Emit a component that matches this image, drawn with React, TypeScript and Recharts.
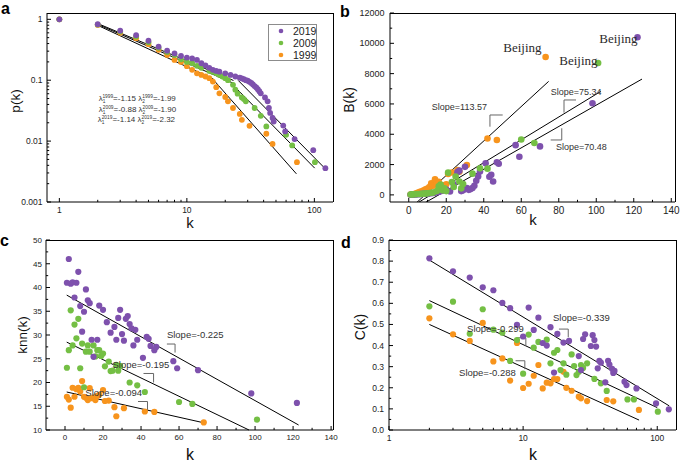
import React from 'react';
import { ScatterChart, Scatter, XAxis, YAxis, ReferenceLine, ReferenceDot, Legend } from 'recharts';

const PURPLE = '#7e51ad';
const GREEN = '#74bf44';
const ORANGE = '#f7941d';
const SANS = '"Liberation Sans", Arial, Helvetica, sans-serif';
const SERIF = '"Liberation Serif", "Times New Roman", Times, serif';

type Pt = { k: number; v: number };
const pts = (rows: number[][]): Pt[] => rows.map(([k, v]) => ({ k, v }));

// ---------- panel a : p(k) ----------
const pk2019 = pts([[1,1],[2,0.83],[3,0.65],[4,0.55],[5,0.445],[6,0.355],[7,0.305],[8,0.275],[9,0.25],[10,0.235],[11,0.228],[12,0.215],[13,0.19],[14,0.175],[15,0.16],[16,0.148],[17,0.142],[18,0.138],[20,0.13],[22,0.122],[24,0.115],[26,0.11],[27,0.107],[28,0.104],[29,0.1],[30,0.098],[31,0.094],[32,0.09],[33,0.085],[34,0.08],[35,0.076],[36,0.071],[37,0.066],[38,0.061],[41,0.052],[43,0.045],[44,0.035],[45,0.029],[47,0.024],[48,0.021],[57,0.018],[59,0.0144],[70,0.0108],[98,0.0071],[122,0.0036]]);
const pk2009 = pts([[1,1],[2,0.82],[3,0.63],[4,0.52],[5,0.42],[6,0.34],[7,0.29],[8,0.26],[9,0.22],[10,0.2],[11,0.19],[12,0.172],[13,0.16],[15,0.142],[16,0.137],[17,0.13],[18,0.122],[19,0.115],[20,0.108],[21,0.1],[23,0.084],[24,0.07],[25,0.06],[27,0.052],[28,0.049],[29,0.045],[34,0.035],[38,0.026],[42,0.0174],[60,0.0127],[67,0.0085],[101,0.0045]]);
const pk1999 = pts([[1,1],[2,0.81],[3,0.6],[4,0.49],[5,0.39],[6,0.315],[7,0.26],[8,0.215],[9,0.2],[10,0.17],[11,0.148],[12,0.13],[13,0.122],[14,0.115],[15,0.108],[16,0.095],[17,0.077],[18,0.061],[20,0.053],[21,0.045],[23,0.035],[26,0.028],[27,0.0224],[31,0.0178],[42,0.0132],[47,0.009],[73,0.0045]]);
const A_X_DOMAIN = [0.8, 140];
const A_Y_DOMAIN = [0.001, 1.27];
const A_X_TICKS = [1,2,3,4,5,6,7,8,9,10,20,30,40,50,60,70,80,90,100];
const A_X_MAJOR = [1,10,100];
const A_Y_TICKS = [0.001,0.002,0.003,0.004,0.005,0.006,0.007,0.008,0.009,0.01,0.02,0.03,0.04,0.05,0.06,0.07,0.08,0.09,0.1,0.2,0.3,0.4,0.5,0.6,0.7,0.8,0.9,1];
const A_Y_MAJOR = [0.001,0.01,0.1,1];
const FIT_A = [
  { k1: 1.98, v1: 0.86, k2: 23.2, v2: 0.099 },
  { k1: 2.02, v1: 0.818, k2: 23.2, v2: 0.089 },
  { k1: 2.05, v1: 0.777, k2: 16.2, v2: 0.104 },
  { k1: 25.3, v1: 0.099, k2: 120.5, v2: 0.0036 },
  { k1: 23.9, v1: 0.077, k2: 100.6, v2: 0.0036 },
  { k1: 16.2, v1: 0.101, k2: 72.3, v2: 0.0029 },
];
const LAMBDA = [
  { year: '1999', l1: '-1.15', l2: '-1.99', k: 2.04, v: 0.0507 },
  { year: '2009', l1: '-0.88', l2: '-1.90', k: 2.04, v: 0.0335 },
  { year: '2019', l1: '-1.14', l2: '-2.32', k: 2.0, v: 0.023 },
];
const LEGEND_ITEMS = [
  { name: '2019', color: PURPLE },
  { name: '2009', color: GREEN },
  { name: '1999', color: ORANGE },
];

// ---------- panel b : B(k) ----------
const bk2019 = pts([[1,10],[2,15],[3,25],[4,30],[5,40],[6,50],[7,60],[8,70],[9,80],[10,60],[11,100],[12,110],[13,120],[14,150],[15,170],[16,200],[17,240],[18,280],[20,350],[22,220],[24,700],[26,1500],[27,1600],[28,250],[29,300],[30,1850],[31,450],[32,330],[33,380],[34,450],[35,600],[36,930],[37,1220],[38,1550],[41,2080],[43,1200],[44,1330],[45,880],[47,2150],[48,2050],[57,3280],[59,2520],[70,3200],[98,6050],[122,10400]]);
const bk2009 = pts([[1,20],[2,30],[3,40],[4,50],[5,55],[6,60],[7,70],[8,80],[9,90],[10,100],[11,120],[12,140],[13,160],[15,250],[16,560],[17,680],[18,300],[19,440],[20,250],[21,1465],[23,850],[24,520],[25,1210],[27,880],[28,430],[29,720],[34,1400],[38,1750],[42,1730],[60,3650],[67,3420],[101,8700]]);
const bk1999 = pts([[1,20],[2,40],[3,60],[4,110],[5,150],[6,200],[7,240],[8,300],[9,360],[10,420],[11,520],[12,765],[13,600],[14,1030],[15,700],[16,870],[17,560],[18,640],[20,700],[21,1380],[23,1480],[26,1640],[27,1530],[31,1970],[42,3720],[47,3620],[73,9100]]);
const B_X_DOMAIN = [-10, 142];
const B_Y_DOMAIN = [-470, 12000];
const B_X_TICKS = [0,10,20,30,40,50,60,70,80,90,100,110,120,130,140];
const B_X_MAJOR = [0,20,40,60,80,100,120,140];
const B_Y_TICKS = [0,1000,2000,3000,4000,5000,6000,7000,8000,9000,10000,11000,12000];
const B_Y_MAJOR = [0,2000,4000,6000,8000,10000,12000];
const FIT_B = [
  { k1: 3.4, v1: -600, k2: 74.6, v2: 7487 },
  { k1: 3.83, v1: -600, k2: 102.4, v2: 6826 },
  { k1: 7.5, v1: -600, k2: 124.4, v2: 7641 },
];
const SLOPE_B = [
  { text: 'Slope=113.57', k: 12.3, v: 5799, bracket: [[50.1, 5271], [43.3, 5271], [43.3, 4499]] },
  { text: 'Slope=75.34', k: 75.7, v: 6808, bracket: [[89.2, 6261], [82.8, 6261], [82.8, 5423]] },
  { text: 'Slope=70.48', k: 78.5, v: 3180, bracket: [[81.6, 4394], [81.6, 3622], [75.7, 3622]] },
];
const BEIJING = [
  { k: 50.4, v: 9407 },
  { k: 80.3, v: 8570 },
  { k: 101.6, v: 10001 },
];

// ---------- panel c : knn(k) ----------
const knn2019 = pts([[2,46],[1,41],[3,40.8],[4,41.1],[6,41],[7,43.3],[5,37.9],[8,36.1],[10,34.9],[11,39.6],[12,37.3],[13,36.7],[9,30.7],[14,29],[15,25.4],[17,29],[18,36.2],[20,35.3],[22,32.7],[24,30.5],[26,31.7],[27,29],[28,33.6],[29,35.3],[30,30.2],[31,28.8],[32,33.4],[33,34],[34,32.3],[35,31.4],[36,27.8],[37,31.1],[38,29],[41,25.2],[43,29.6],[44,29.2],[45,27.7],[47,26.8],[48,27.5],[57,24.5],[59,23],[70,22.6],[98,17.7],[122,15.7]]);
const knn2009 = pts([[1,23.1],[2,26.8],[3,35.2],[4,27.8],[5,32.2],[6,29.3],[7,33.4],[8,23],[9,28.2],[10,19],[11,26.5],[12,27.8],[13,26.5],[15,27.8],[16,25.5],[17,26.8],[18,26.8],[19,25.6],[20,26.1],[21,23.4],[23,24.4],[24,22.4],[25,22.5],[27,23.7],[28,22.5],[29,23.5],[34,20],[38,19.4],[42,18],[60,15.9],[67,15.5],[101,12.2]]);
const knn1999 = pts([[1,17],[2,16.4],[3,14.7],[4,18.9],[5,17],[6,18.6],[7,18.9],[8,18.1],[9,20.3],[10,17],[11,16.8],[12,16.3],[13,18.8],[14,16.7],[15,16.9],[16,16.3],[17,17.2],[18,17.4],[20,18.4],[21,16.1],[23,16.2],[26,14.8],[27,12.9],[31,14.6],[42,13.9],[47,13.8],[73,11.6]]);
const C_X_DOMAIN = [-10, 141];
const C_Y_DOMAIN = [10, 50];
const C_X_TICKS = [0,10,20,30,40,50,60,70,80,90,100,110,120,130,140];
const C_X_MAJOR = [0,20,40,60,80,100,120,140];
const C_Y_TICKS = [10,12.5,15,17.5,20,22.5,25,27.5,30,32.5,35,37.5,40,42.5,45,47.5,50];
const C_Y_MAJOR = [10,15,20,25,30,35,40,45,50];
const FIT_C = [
  { k1: 0.9, v1: 38.4, k2: 122.9, v2: 11.05 },
  { k1: 0.9, v1: 28.5, k2: 96.8, v2: 10 },
  { k1: 0.9, v1: 18, k2: 73.2, v2: 11.5 },
];
const SLOPE_C = [
  { text: 'Slope=-0.225', k: 53.6, v: 30, bracket: [[53.6, 28.1], [57.9, 28.1], [57.9, 26.3]] },
  { text: 'Slope=-0.195', k: 25, v: 23.7, bracket: [[41.3, 21.9], [46.6, 21.9], [46.6, 20]] },
  { text: 'Slope=-0.094', k: 10.7, v: 17.9, bracket: [[38.4, 16], [43.4, 16], [43.4, 14.2]] },
];

// ---------- panel d : C(k) ----------
const ck2019 = pts([[2,0.813],[3,0.752],[4,0.722],[5,0.676],[6,0.662],[7,0.602],[8,0.577],[9,0.498],[10,0.443],[11,0.58],[12,0.474],[13,0.532],[14,0.412],[15,0.4],[16,0.487],[17,0.272],[18,0.455],[20,0.414],[22,0.422],[26,0.35],[27,0.284],[28,0.431],[29,0.453],[32,0.398],[33,0.449],[34,0.426],[35,0.395],[36,0.292],[37,0.327],[38,0.319],[41,0.226],[43,0.328],[44,0.31],[46,0.29],[47,0.27],[48,0.28],[57,0.229],[59,0.213],[70,0.197],[98,0.126],[122,0.098]]);
const ck2009 = pts([[2,0.586],[3,0.608],[4,0.456],[5,0.572],[6,0.475],[7,0.461],[8,0.327],[9,0.426],[10,0.267],[11,0.452],[12,0.39],[13,0.417],[15,0.428],[16,0.316],[17,0.366],[18,0.379],[19,0.284],[20,0.316],[21,0.262],[23,0.358],[24,0.303],[25,0.26],[26,0.276],[27,0.308],[28,0.294],[30,0.316],[34,0.242],[38,0.221],[42,0.185],[60,0.145],[67,0.145],[101,0.087]]);
const ck1999 = pts([[2,0.529],[3,0.453],[4,0.422],[5,0.507],[6,0.325],[7,0.339],[8,0.234],[9,0.412],[10,0.199],[11,0.219],[12,0.257],[13,0.308],[14,0.197],[15,0.224],[16,0.221],[17,0.241],[18,0.241],[20,0.276],[21,0.2],[23,0.186],[26,0.158],[27,0.15],[30,0.137],[42,0.142],[47,0.136],[73,0.095]]);
const D_X_DOMAIN = [1, 138];
const D_Y_DOMAIN = [0, 0.9];
const D_X_TICKS = [1,2,3,4,5,6,7,8,9,10,20,30,40,50,60,70,80,90,100];
const D_X_MAJOR = [1,10,100];
const D_Y_TICKS = [0,0.05,0.1,0.15,0.2,0.25,0.3,0.35,0.4,0.45,0.5,0.55,0.6,0.65,0.7,0.75,0.8,0.85,0.9];
const D_Y_MAJOR = [0,0.1,0.2,0.3,0.4,0.5,0.6,0.7,0.8,0.9];
const FIT_D = [
  { k1: 2, v1: 0.805, k2: 123, v2: 0.114 },
  { k1: 2, v1: 0.613, k2: 100, v2: 0.106 },
  { k1: 2, v1: 0.5, k2: 73.2, v2: 0.047 },
];
const SLOPE_D = [
  { text: 'Slope=-0.339', k: 16.7, v: 0.534, bracket: [[18.5, 0.478], [21.7, 0.478], [21.7, 0.439]] },
  { text: 'Slope=-0.299', k: 3.82, v: 0.478, bracket: [[8.93, 0.437], [10.48, 0.437], [10.48, 0.398]] },
  { text: 'Slope=-0.288', k: 3.33, v: 0.273, bracket: [[8.78, 0.328], [10.3, 0.328], [10.3, 0.288]] },
];

// ---------- layout of the four panels ----------
type Layout = { left: number; top: number; width: number; height: number; margin: { top: number; right: number; bottom: number; left: number }; yW: number; xH: number };
const LAYOUT_A: Layout = { left: 0, top: 0, width: 340, height: 230, margin: { top: 13, right: 7, bottom: 8, left: 0 }, yW: 47, xH: 20 };
const LAYOUT_B: Layout = { left: 340, top: 0, width: 345, height: 230, margin: { top: 13, right: 10, bottom: 8, left: 0 }, yW: 50, xH: 20 };
const LAYOUT_C: Layout = { left: 0, top: 230, width: 340, height: 234, margin: { top: 10, right: 7, bottom: 14, left: 0 }, yW: 46, xH: 20 };
const LAYOUT_D: Layout = { left: 340, top: 230, width: 345, height: 234, margin: { top: 10, right: 9, bottom: 14, left: 0 }, yW: 49, xH: 20 };
const plotRect = (l: Layout) => ({
  x: l.left + l.margin.left + l.yW,
  y: l.top + l.margin.top,
  w: l.width - l.margin.left - l.margin.right - l.yW,
  h: l.height - l.margin.top - l.margin.bottom - l.xH,
});

// ---------- helpers ----------
type Side = 'bottom' | 'left';
interface TickOpts { side: Side; majors: number[]; fmt: (v: number) => string; fontSize: number; gap: number; }
const near = (a: number, b: number) => Math.abs(a - b) <= 1e-6 * Math.max(Math.abs(a), Math.abs(b)) + 1e-12;
const isMajor = (v: number, majors: number[]) => majors.some((m) => near(m, v));
const MAJOR_LEN = 4;
const MINOR_LEN = 2.2;

function makeTick(o: TickOpts) {
  return (props: any) => {
    const { x, y, payload } = props;
    const v = Number(payload && payload.value);
    const maj = isMajor(v, o.majors);
    const len = maj ? MAJOR_LEN : MINOR_LEN;
    const line = o.side === 'bottom'
      ? <line x1={x} x2={x} y1={y} y2={y - len} />
      : <line x1={x} x2={x + len} y1={y} y2={y} />;
    let label: any = null;
    if (maj) {
      label = o.side === 'bottom'
        ? <text x={x} y={y + o.gap} dy="0.71em" textAnchor="middle" fontSize={o.fontSize} fontFamily={SANS} fill="#222" stroke="none">{o.fmt(v)}</text>
        : <text x={x - o.gap} y={y} dy="0.35em" textAnchor="end" fontSize={o.fontSize} fontFamily={SANS} fill="#222" stroke="none">{o.fmt(v)}</text>;
    }
    return (
      <g>
        <g stroke="#000" strokeWidth={1}>{line}</g>
        {label}
      </g>
    );
  };
}

const AXIS_LINE = { stroke: '#000', strokeWidth: 1 };
const axisCommon = { tickLine: false, tickSize: 0, tickMargin: 0, interval: 0 as const, allowDataOverflow: true, axisLine: AXIS_LINE };

const dotShape = (color: string, r: number) => (p: any) => <circle cx={p.cx} cy={p.cy} r={r} fill={color} />;

const fitLines = (fits: { k1: number; v1: number; k2: number; v2: number }[], prefix: string, overflow: any = 'discard') =>
  fits.map((f, i) => (
    <ReferenceLine key={`${prefix}${i}`} segment={[{ x: f.k1, y: f.v1 }, { x: f.k2, y: f.v2 }]} stroke="#000" strokeWidth={1} ifOverflow={overflow} />
  ));

const textAt = (key: string, k: number, v: number, render: (x: number, y: number) => any) => (
  <ReferenceDot key={key} x={k} y={v} r={0} fill="none" stroke="none" ifOverflow="visible"
    label={(p: any) => {
      const vb = (p && p.viewBox) || p || {};
      return render(Number(vb.x) || 0, Number(vb.y) || 0);
    }} />
);

const slopeAnnotations = (items: { text: string; k: number; v: number; bracket: number[][] }[], prefix: string, fs: number) => {
  const out: any[] = [];
  items.forEach((it, i) => {
    out.push(textAt(`${prefix}t${i}`, it.k, it.v, (x, y) => (
      <text x={x} y={y} dy="0.35em" fontSize={fs} fontFamily={SANS} fill="#333">{it.text}</text>
    )));
    for (let j = 0; j < it.bracket.length - 1; j++) {
      const a = it.bracket[j];
      const b = it.bracket[j + 1];
      out.push(<ReferenceLine key={`${prefix}b${i}_${j}`} segment={[{ x: a[0], y: a[1] }, { x: b[0], y: b[1] }]} stroke="#666" strokeWidth={1} ifOverflow="visible" />);
    }
  });
  return out;
};

function LegendBox() {
  return (
    <div style={{ boxSizing: 'border-box', width: 49, height: 37, border: '1px solid #8c8c8c', background: '#fff', position: 'relative', fontFamily: SANS, fontSize: 10.5, color: '#222' }}>
      {LEGEND_ITEMS.map((e, i) => (
        <div key={e.name} style={{ position: 'absolute', left: 0, top: -0.5 + i * 12.4, height: 12, width: '100%' }}>
          <svg width={8} height={12} style={{ position: 'absolute', left: 7.5, top: 0 }}>
            <circle cx={4} cy={6} r={2.3} fill={e.color} />
          </svg>
          <span style={{ position: 'absolute', left: 24, top: 0, lineHeight: '12px' }}>{e.name}</span>
        </div>
      ))}
    </div>
  );
}

// ---------- panels ----------
function PanelA() {
  const L = LAYOUT_A;
  return (
    <ScatterChart width={L.width} height={L.height} margin={L.margin}>
      <XAxis type="number" dataKey="k" scale="log" domain={A_X_DOMAIN} ticks={A_X_TICKS} height={L.xH} {...axisCommon}
        tick={makeTick({ side: 'bottom', majors: A_X_MAJOR, fmt: (v) => String(v), fontSize: 8.5, gap: 5 })} />
      <YAxis type="number" dataKey="v" scale="log" domain={A_Y_DOMAIN} ticks={A_Y_TICKS} width={L.yW} {...axisCommon}
        tick={makeTick({ side: 'left', majors: A_Y_MAJOR, fmt: (v) => String(v), fontSize: 8.5, gap: 4.5 })} />
      <Scatter name="1999" data={pk1999} fill={ORANGE} isAnimationActive={false} shape={dotShape(ORANGE, 2.9)} />
      <Scatter name="2009" data={pk2009} fill={GREEN} isAnimationActive={false} shape={dotShape(GREEN, 2.9)} />
      <Scatter name="2019" data={pk2019} fill={PURPLE} isAnimationActive={false} shape={dotShape(PURPLE, 2.9)} />
      {fitLines(FIT_A, 'fa')}
      {LAMBDA.map((l, i) => textAt(`lam${i}`, l.k, l.v, (x, y) => (
        <text x={x} y={y} dy="0.35em" fontSize={8} fontFamily={SANS} fill="#333">
          <tspan>λ</tspan>
          <tspan fontSize={4.8} dy={2.5}>1</tspan>
          <tspan fontSize={4.8} dx={-2.7} dy={-5.5}>{l.year}</tspan>
          <tspan dy={3}>{`=${l.l1} λ`}</tspan>
          <tspan fontSize={4.8} dy={2.5}>2</tspan>
          <tspan fontSize={4.8} dx={-2.7} dy={-5.5}>{l.year}</tspan>
          <tspan dy={3}>{`=${l.l2}`}</tspan>
        </text>
      )))}
      <Legend layout="vertical" align="center" verticalAlign="middle" wrapperStyle={{ left: 268, top: 24, width: 49, height: 37 }} content={() => <LegendBox />} />
    </ScatterChart>
  );
}

function PanelB() {
  const L = LAYOUT_B;
  return (
    <ScatterChart width={L.width} height={L.height} margin={L.margin}>
      <XAxis type="number" dataKey="k" domain={B_X_DOMAIN} ticks={B_X_TICKS} height={L.xH} {...axisCommon}
        tick={makeTick({ side: 'bottom', majors: B_X_MAJOR, fmt: (v) => String(v), fontSize: 10, gap: 5 })} />
      <YAxis type="number" dataKey="v" domain={B_Y_DOMAIN} ticks={B_Y_TICKS} width={L.yW} {...axisCommon}
        tick={makeTick({ side: 'left', majors: B_Y_MAJOR, fmt: (v) => String(v), fontSize: 9, gap: 5.5 })} />
      <Scatter name="1999" data={bk1999} fill={ORANGE} isAnimationActive={false} shape={dotShape(ORANGE, 3.3)} />
      <Scatter name="2019" data={bk2019} fill={PURPLE} isAnimationActive={false} shape={dotShape(PURPLE, 3.3)} />
      <Scatter name="2009" data={bk2009} fill={GREEN} isAnimationActive={false} shape={dotShape(GREEN, 3.3)} />
      {fitLines(FIT_B, 'fb', 'hidden')}
      {slopeAnnotations(SLOPE_B, 'sb', 9)}
      {BEIJING.map((b, i) => textAt(`bj${i}`, b.k, b.v, (x, y) => (
        <text x={x} y={y} fontSize={13} fontFamily={SERIF} fill="#2a2a2a">Beijing</text>
      )))}
    </ScatterChart>
  );
}

function PanelC() {
  const L = LAYOUT_C;
  return (
    <ScatterChart width={L.width} height={L.height} margin={L.margin}>
      <XAxis type="number" dataKey="k" domain={C_X_DOMAIN} ticks={C_X_TICKS} height={L.xH} {...axisCommon}
        tick={makeTick({ side: 'bottom', majors: C_X_MAJOR, fmt: (v) => String(v), fontSize: 8, gap: 4.5 })} />
      <YAxis type="number" dataKey="v" domain={C_Y_DOMAIN} ticks={C_Y_TICKS} width={L.yW} {...axisCommon}
        tick={makeTick({ side: 'left', majors: C_Y_MAJOR, fmt: (v) => String(v), fontSize: 8, gap: 4 })} />
      <Scatter name="1999" data={knn1999} fill={ORANGE} isAnimationActive={false} shape={dotShape(ORANGE, 3.1)} />
      <Scatter name="2009" data={knn2009} fill={GREEN} isAnimationActive={false} shape={dotShape(GREEN, 3.1)} />
      <Scatter name="2019" data={knn2019} fill={PURPLE} isAnimationActive={false} shape={dotShape(PURPLE, 3.1)} />
      {fitLines(FIT_C, 'fc', 'visible')}
      {slopeAnnotations(SLOPE_C, 'sc', 9.5)}
    </ScatterChart>
  );
}

function PanelD() {
  const L = LAYOUT_D;
  return (
    <ScatterChart width={L.width} height={L.height} margin={L.margin}>
      <XAxis type="number" dataKey="k" scale="log" domain={D_X_DOMAIN} ticks={D_X_TICKS} height={L.xH} {...axisCommon}
        tick={makeTick({ side: 'bottom', majors: D_X_MAJOR, fmt: (v) => String(v), fontSize: 8.5, gap: 4.5 })} />
      <YAxis type="number" dataKey="v" domain={D_Y_DOMAIN} ticks={D_Y_TICKS} width={L.yW} {...axisCommon}
        tick={makeTick({ side: 'left', majors: D_Y_MAJOR, fmt: (v) => v.toFixed(1), fontSize: 8.5, gap: 5 })} />
      <Scatter name="1999" data={ck1999} fill={ORANGE} isAnimationActive={false} shape={dotShape(ORANGE, 3.1)} />
      <Scatter name="2009" data={ck2009} fill={GREEN} isAnimationActive={false} shape={dotShape(GREEN, 3.1)} />
      <Scatter name="2019" data={ck2019} fill={PURPLE} isAnimationActive={false} shape={dotShape(PURPLE, 3.1)} />
      {fitLines(FIT_D, 'fd', 'visible')}
      {slopeAnnotations(SLOPE_D, 'sd', 9.5)}
    </ScatterChart>
  );
}

const PANEL_LETTERS = [
  { t: 'a', x: 1, y: 14 },
  { t: 'b', x: 340, y: 17 },
  { t: 'c', x: 0, y: 246 },
  { t: 'd', x: 341, y: 248 },
];
const AXIS_TITLES = [
  { t: 'p(k)', x: 15, y: 101, rot: true, fs: 13.5 },
  { t: 'k', x: 190, y: 227.5, rot: false, fs: 15 },
  { t: 'B(k)', x: 349, y: 100, rot: true, fs: 14 },
  { t: 'k', x: 533, y: 224.5, rot: false, fs: 15 },
  { t: 'knn(k)', x: 22, y: 335, rot: true, fs: 13.5 },
  { t: 'k', x: 190, y: 460, rot: false, fs: 16 },
  { t: 'C(k)', x: 360, y: 327, rot: true, fs: 14 },
  { t: 'k', x: 533, y: 460, rot: false, fs: 16 },
];

export default function App() {
  const layouts = [LAYOUT_A, LAYOUT_B, LAYOUT_C, LAYOUT_D];
  const panels = [<PanelA key="a" />, <PanelB key="b" />, <PanelC key="c" />, <PanelD key="d" />];
  return (
    <div style={{ position: 'absolute', left: 0, top: 0, width: 685, height: 464, background: '#fff', fontFamily: SANS, overflow: 'hidden' }}>
      {layouts.map((L, i) => (
        <div key={i} style={{ position: 'absolute', left: L.left, top: L.top, zIndex: 1 }}>{panels[i]}</div>
      ))}
      {layouts.map((L, i) => {
        const r = plotRect(L);
        return (
          <div key={`frame${i}`} style={{ position: 'absolute', left: r.x, top: r.y - 0.5, width: r.w + 0.5, height: r.h + 0.5, boxSizing: 'border-box', borderTop: '1px solid #000', borderRight: '1px solid #000', zIndex: 2, pointerEvents: 'none' }} />
        );
      })}
      <svg width={685} height={464} style={{ position: 'absolute', left: 0, top: 0, pointerEvents: 'none', zIndex: 3 }}>
        {PANEL_LETTERS.map((l) => (
          <text key={l.t} x={l.x} y={l.y} fontSize={16} fontWeight="bold" fontFamily={SANS} fill="#000">{l.t}</text>
        ))}
        {AXIS_TITLES.map((a, i) => (
          <text key={i} x={a.x} y={a.y} fontSize={a.fs} fontFamily={SANS} fill="#111" textAnchor="middle"
            dominantBaseline={a.rot ? 'central' : 'auto'}
            transform={a.rot ? `rotate(-90 ${a.x} ${a.y})` : undefined}>{a.t}</text>
        ))}
      </svg>
    </div>
  );
}
